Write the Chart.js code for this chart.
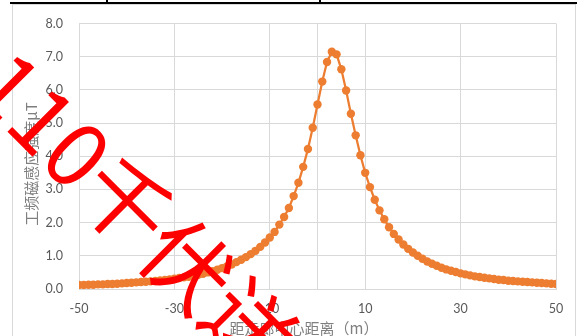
<!DOCTYPE html>
<html>
<head>
<meta charset="utf-8">
<script src="https://cdn.jsdelivr.net/npm/chart.js@4"></script>
<style>
  html, body { margin: 0; padding: 0; background: #fff; }
  #wrap { position: relative; width: 577px; height: 336px; overflow: hidden; }
  #frame { position: absolute; left: 12px; top: 4px; width: 562px; height: 345px; border: 1px solid #d9d9d9; }
  .rule { position: absolute; background: #000; }
  canvas { position: absolute; left: 0; top: 0; }
</style>
</head>
<body>
<div id="wrap">
  <div id="frame"></div>
  <div class="rule" style="left:10px;top:2px;width:567px;height:2px"></div>
  <div class="rule" style="left:106px;top:0;width:2px;height:3px"></div>
  <div class="rule" style="left:319px;top:0;width:2px;height:3px"></div>
  <canvas id="c" width="577" height="336"></canvas>
</div>
<script>
// Distance from the corridor centre (m)
const distances = [
  -50, -49, -48, -47, -46, -45, -44, -43, -42, -41,
  -40, -39, -38, -37, -36, -35, -34, -33, -32, -31,
  -30, -29, -28, -27, -26, -25, -24, -23, -22, -21,
  -20, -19, -18, -17, -16, -15, -14, -13, -12, -11,
  -10, -9, -8, -7, -6, -5, -4, -3, -2, -1,
  0, 1, 2, 3, 4, 5, 6, 7, 8, 9,
  10, 11, 12, 13, 14, 15, 16, 17, 18, 19,
  20, 21, 22, 23, 24, 25, 26, 27, 28, 29,
  30, 31, 32, 33, 34, 35, 36, 37, 38, 39,
  40, 41, 42, 43, 44, 45, 46, 47, 48, 49,
  50
];

// Power-frequency magnetic induction (μT)
const fieldValues = [
  0.12, 0.12, 0.13, 0.13, 0.14, 0.14, 0.15, 0.15, 0.16, 0.17,
  0.18, 0.19, 0.20, 0.21, 0.22, 0.23, 0.24, 0.26, 0.27, 0.29,
  0.31, 0.33, 0.35, 0.37, 0.40, 0.43, 0.46, 0.50, 0.54, 0.58,
  0.63, 0.68, 0.74, 0.81, 0.88, 0.96, 1.05, 1.15, 1.27, 1.40,
  1.55, 1.72, 1.94, 2.17, 2.44, 2.80, 3.20, 3.68, 4.22, 4.86,
  5.56, 6.25, 6.84, 7.15, 7.07, 6.62, 5.98, 5.28, 4.63, 4.03,
  3.50, 3.07, 2.69, 2.37, 2.10, 1.86, 1.66, 1.49, 1.34, 1.21,
  1.10, 1.00, 0.91, 0.83, 0.76, 0.70, 0.64, 0.59, 0.55, 0.51,
  0.47, 0.44, 0.41, 0.38, 0.36, 0.34, 0.32, 0.30, 0.28, 0.27,
  0.25, 0.24, 0.23, 0.22, 0.21, 0.20, 0.19, 0.18, 0.17, 0.16,
  0.15
];

const xTickValues = [-50, -30, -10, 10, 30, 50];
const xTickLabels = ['-50', '-30', '-10', '10', '30', '50'];
const yTickValues = [0, 1, 2, 3, 4, 5, 6, 7, 8];
const yTickLabels = ['0.0', '1.0', '2.0', '3.0', '4.0', '5.0', '6.0', '7.0', '8.0'];
const valueAxisCrossing = 0;

const xTitle = '距走廊中心距离（m）';
const yTitle = '工频磁感应强度μT';
const stampText = '110千伏送电';

const points = distances.map((d, i) => ({ x: d, y: fieldValues[i] }));

const tickFont = { family: 'Lato, "Liberation Sans", sans-serif', size: 12.5 };
const gridColor = '#d9d9d9';

// Axis titles and the red stamp, drawn over the finished chart
const overlay = {
  id: 'overlay',
  afterDraw(chart) {
    const ctx = chart.ctx;
    ctx.save();
    ctx.fillStyle = '#7f7f7f';
    ctx.font = '15px "Noto Sans CJK SC", sans-serif';
    ctx.textAlign = 'center';
    ctx.textBaseline = 'middle';
    ctx.fillText(xTitle, 304, 328);
    ctx.save();
    ctx.translate(31, 164);
    ctx.rotate(-Math.PI / 2);
    ctx.fillText(yTitle, 0, 0);
    ctx.restore();

    ctx.translate(-9, 68);
    ctx.rotate(Math.PI / 4);
    ctx.fillStyle = '#ff0000';
    ctx.font = '88px "Noto Sans CJK SC", sans-serif';
    ctx.textAlign = 'left';
    ctx.fillText(stampText, 0, 0);
    ctx.restore();
  }
};

new Chart(document.getElementById('c'), {
  type: 'scatter',
  data: {
    datasets: [{
      data: points,
      showLine: true,
      borderColor: '#ed7d31',
      backgroundColor: '#ed7d31',
      borderWidth: 2.25,
      pointRadius: 4.2,
      pointBorderWidth: 0,
      pointBackgroundColor: '#ed7d31',
      tension: 0
    }]
  },
  options: {
    responsive: false,
    animation: false,
    devicePixelRatio: 1,
    layout: { padding: { left: 0, right: 21, top: 22, bottom: 0 } },
    plugins: { legend: { display: false }, tooltip: { enabled: false } },
    scales: {
      x: {
        type: 'linear',
        min: -50,
        max: 50,
        afterBuildTicks(scale) {
          const vals = xTickValues.concat([valueAxisCrossing]).sort((a, b) => a - b);
          scale.ticks = vals.map(v => ({ value: v }));
        },
        afterFit(scale) { scale.height = 47; },
        ticks: {
          autoSkip: false,
          maxRotation: 0,
          padding: 12,
          color: '#595959',
          font: tickFont,
          callback(v) {
            const i = xTickValues.indexOf(v);
            return i >= 0 ? xTickLabels[i] : '';
          }
        },
        grid: { color: gridColor, lineWidth: 1, drawTicks: false },
        border: { display: true, color: gridColor, width: 1 }
      },
      y: {
        min: 0,
        max: 8,
        afterBuildTicks(scale) {
          scale.ticks = yTickValues.map(v => ({ value: v }));
        },
        afterFit(scale) { scale.width = 79; },
        ticks: {
          padding: 16,
          color: '#595959',
          font: tickFont,
          callback(v) {
            const i = yTickValues.indexOf(v);
            return i >= 0 ? yTickLabels[i] : '';
          }
        },
        grid: { color: gridColor, lineWidth: 1, drawTicks: false },
        border: { display: false }
      }
    }
  },
  plugins: [overlay]
});
</script>
</body>
</html>
